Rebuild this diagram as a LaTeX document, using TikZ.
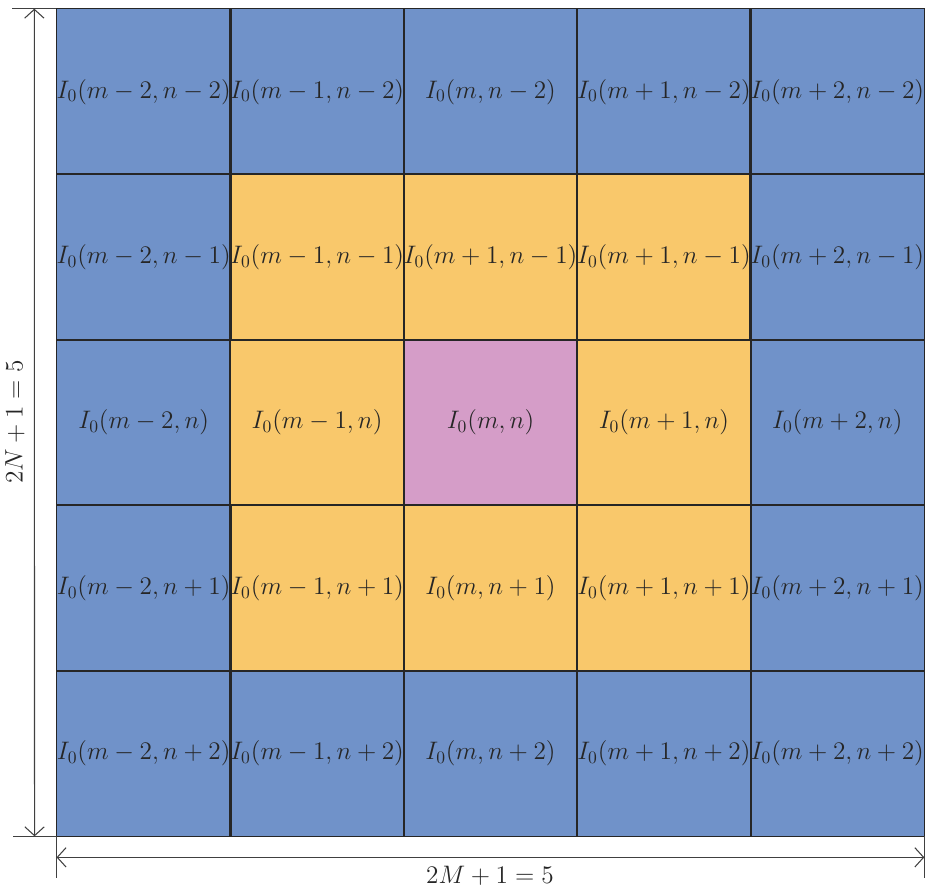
\documentclass[tikz,border=0pt]{standalone}
\usetikzlibrary{arrows.meta}

\definecolor{cellblue}{RGB}{112,146,201}
\definecolor{cellorange}{RGB}{249,200,107}
\definecolor{cellpink}{RGB}{213,157,200}

\begin{document}
\begin{tikzpicture}[x=0.02cm, y=-0.02cm,
  cell/.style={fill=cellblue,
               minimum width=3.468cm, minimum height=3.308cm, inner sep=0pt,
               font=\fontsize{14}{16}\selectfont, text=black!85},
  ring/.style={cell, fill=cellorange},
  centre/.style={cell, fill=cellpink},
  gridline/.style={draw=black!85, line width=0.8pt},
  dim/.style={{Straight Barb[length=5pt,width=11pt]}-{Straight Barb[length=5pt,width=11pt]},
              draw=black!75, line width=0.6pt},
  ext/.style={draw=black!75, line width=0.6pt},
  dimlabel/.style={font=\fontsize{14}{16}\selectfont, text=black!85}
]
  \useasboundingbox (0,0) rectangle (927,890);

  % 5x5 window of pixels
  \foreach \st/\arg [count=\k from 0] in {
      cell/{m-2,n-2}, cell/{m-1,n-2}, cell/{m,n-2}, cell/{m+1,n-2}, cell/{m+2,n-2},
      cell/{m-2,n-1}, ring/{m-1,n-1}, ring/{m+1,n-1}, ring/{m+1,n-1}, cell/{m+2,n-1},
      cell/{m-2,n},   ring/{m-1,n},   centre/{m,n},   ring/{m+1,n},   cell/{m+2,n},
      cell/{m-2,n+1}, ring/{m-1,n+1}, ring/{m,n+1},   ring/{m+1,n+1}, cell/{m+2,n+1},
      cell/{m-2,n+2}, cell/{m-1,n+2}, cell/{m,n+2},   cell/{m+1,n+2}, cell/{m+2,n+2}} {
    \pgfmathtruncatemacro\col{mod(\k,5)}
    \pgfmathtruncatemacro\row{int(\k/5)}
    \node[\st] (c-\row-\col) at ({57+173.4*(\col+0.5)},{9+165.4*(\row+0.5)}) {$I_0(\arg)$};
  }
  % cell borders on top
  \foreach \row in {0,...,4}
    \foreach \col in {0,...,4}
      \draw[gridline] (c-\row-\col.north west) rectangle (c-\row-\col.south east);

  % vertical dimension
  \path (c-0-0.north west) ++(-44,0) coordinate (extTL);
  \path (c-4-0.south west) ++(-44,0) coordinate (extBL);
  \path (c-0-0.north west) ++(-22,0) coordinate (dimT);
  \path (c-4-0.south west) ++(-22,0) coordinate (dimB);
  \draw[ext] (c-0-0.north west) -- (extTL);
  \draw[ext] (c-4-0.south west) -- (extBL);
  \draw[dim] (dimB) -- (dimT);
  \node[dimlabel, rotate=90] (lblN) at (15,422) {$2N+1=5$};

  % horizontal dimension
  \path (c-4-0.south west) ++(0,42) coordinate (extBW);
  \path (c-4-4.south east) ++(0,42) coordinate (extBE);
  \path (c-4-0.south west) ++(0,21) coordinate (dimW);
  \path (c-4-4.south east) ++(0,21) coordinate (dimE);
  \draw[ext] (c-4-0.south west) -- (extBW);
  \draw[ext] (c-4-4.south east) -- (extBE);
  \draw[dim] (dimW) -- (dimE);
  \node[dimlabel] (lblM) at (490,876) {$2M+1=5$};
\end{tikzpicture}
\end{document}
